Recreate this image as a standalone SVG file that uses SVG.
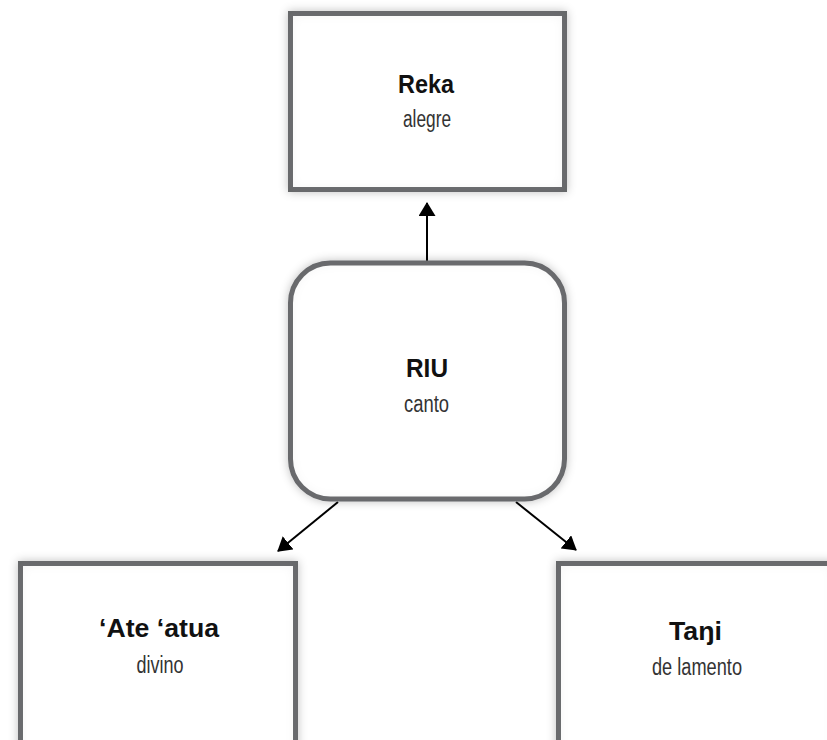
<svg xmlns="http://www.w3.org/2000/svg" width="827" height="740" viewBox="0 0 827 740">
<defs>
<style>
.box{fill:#ffffff;stroke:#6d6e71;stroke-width:5;filter:url(#sh)}
.t{font-family:"Liberation Sans",Arial,sans-serif;text-anchor:middle}
.ti{font-weight:bold;font-size:25px;fill:#111}
.su{font-size:23.5px;fill:#333}
.c{stroke:#000;stroke-width:2;fill:none;marker-end:url(#ah)}
</style>
<marker id="ah" viewBox="0 0 14 17" refX="13" refY="8.5" markerWidth="14" markerHeight="17" markerUnits="userSpaceOnUse" orient="auto">
<path d="M0,0 L14,8.5 L0,17 Z" fill="#000"/>
</marker>
<filter id="sh" x="-10%" y="-10%" width="120%" height="120%">
<feGaussianBlur in="SourceAlpha" stdDeviation="5" result="b"/>
<feFlood flood-color="#000" flood-opacity="0.25"/>
<feComposite in2="b" operator="in" result="outer"/>
<feComponentTransfer in="SourceAlpha" result="inv"><feFuncA type="table" tableValues="1 0"/></feComponentTransfer>
<feGaussianBlur in="inv" stdDeviation="7" result="ib"/>
<feFlood flood-color="#000" flood-opacity="0.18"/>
<feComposite in2="ib" operator="in" result="ic"/>
<feComposite in="ic" in2="SourceAlpha" operator="in" result="inner"/>
<feMerge><feMergeNode in="outer"/><feMergeNode in="SourceGraphic"/><feMergeNode in="inner"/></feMerge>
</filter>
</defs>
<rect width="827" height="740" fill="#fff"/>
<g id="connectors">
<line class="c" x1="427" y1="263" x2="427" y2="203"/>
<line class="c" x1="338" y1="502" x2="278" y2="551"/>
<line class="c" x1="516" y1="502" x2="576" y2="550"/>
</g>
<g id="reka">
<rect class="box" x="290.5" y="13.5" width="274" height="176"/>
<text class="t ti" x="426" y="92.5" textLength="56" lengthAdjust="spacingAndGlyphs">Reka</text>
<text class="t su" x="427" y="126.5" textLength="48" lengthAdjust="spacingAndGlyphs">alegre</text>
</g>
<g id="riu">
<rect class="box" x="290.5" y="263" width="274" height="236" rx="40"/>
<text class="t ti" x="427" y="376.5" textLength="42" lengthAdjust="spacingAndGlyphs">RIU</text>
<text class="t su" x="426.5" y="411.5" textLength="45" lengthAdjust="spacingAndGlyphs">canto</text>
</g>
<g id="ateatua">
<rect class="box" x="20.5" y="563.5" width="275" height="190"/>
<text class="t ti" x="159" y="637" textLength="120" lengthAdjust="spacingAndGlyphs">‘Ate ‘atua</text>
<text class="t su" x="160" y="673" textLength="47" lengthAdjust="spacingAndGlyphs">divino</text>
</g>
<g id="tangi">
<rect class="box" x="558.5" y="563.5" width="275" height="190"/>
<text class="t ti" x="695.5" y="640" textLength="53" lengthAdjust="spacingAndGlyphs">Taŋi</text>
<text class="t su" x="697" y="675" textLength="90" lengthAdjust="spacingAndGlyphs">de lamento</text>
</g>
</svg>
